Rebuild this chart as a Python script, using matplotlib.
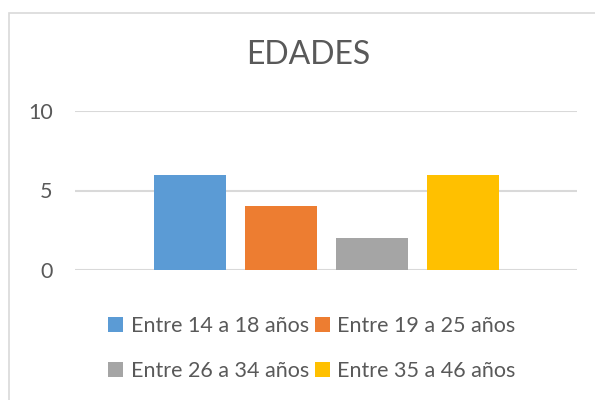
import matplotlib
matplotlib.use("Agg")
import matplotlib.pyplot as plt
from matplotlib.patches import Rectangle, Patch

plt.rcParams['font.family'] = ['Lato', 'DejaVu Sans']

title = "EDADES"
series = ["Entre 14 a 18 años", "Entre 19 a 25 años", "Entre 26 a 34 años", "Entre 35 a 46 años"]
values = [6, 4, 2, 6]
colors = ["#5B9BD5", "#ED7D31", "#A5A5A5", "#FFC000"]
yticks = [0, 5, 10]

W, H = 595, 400
fig = plt.figure(figsize=(W / 100, H / 100), dpi=100)
fig.patch.set_facecolor("white")

# chart border
fig.patches.append(Rectangle((9 / W, -0.1), 1.2, (400 - 13) / H + 0.1, transform=fig.transFigure,
                             fill=False, edgecolor="#D9D9D9", linewidth=1.2))

ax = fig.add_axes([75 / W, (400 - 270) / H, (577 - 75) / W, (270 - 111) / H])
ax.set_xlim(-0.5, 0.5)
ax.set_ylim(0, 10)

n = len(values)
bw = 72 / 502
step = 91 / 502
for i, (v, c, s) in enumerate(zip(values, colors, series)):
    ax.bar((i - (n - 1) / 2) * step, v, width=bw, color=c, label=s, zorder=3)

ax.set_yticks(yticks)
ax.set_yticklabels([str(t) for t in yticks], fontsize=15.5, color="#595959")
ax.tick_params(axis="y", length=0, pad=16)
ax.set_xticks([])
for sp in ax.spines.values():
    sp.set_visible(False)
ax.grid(axis="y", color="#D9D9D9", linewidth=1.5, zorder=0)
ax.set_axisbelow(True)

fig.text(308 / W, (400 - 55) / H, title, ha="center", va="center", fontsize=23, color="#595959")

handles = [Patch(facecolor=c, edgecolor="none") for c in colors]
order = [0, 2, 1, 3]  # row-wise fill
fig.legend([handles[k] for k in order], [series[k] for k in order], loc="center",
           bbox_to_anchor=(312 / W, (400 - 348.5) / H), ncol=2,
           frameon=False, fontsize=15.5, labelcolor="#595959", handlelength=0.7, handleheight=0.7,
           handletextpad=0.35, columnspacing=0.25, labelspacing=1.15)

fig.savefig("out.png", dpi=100)
